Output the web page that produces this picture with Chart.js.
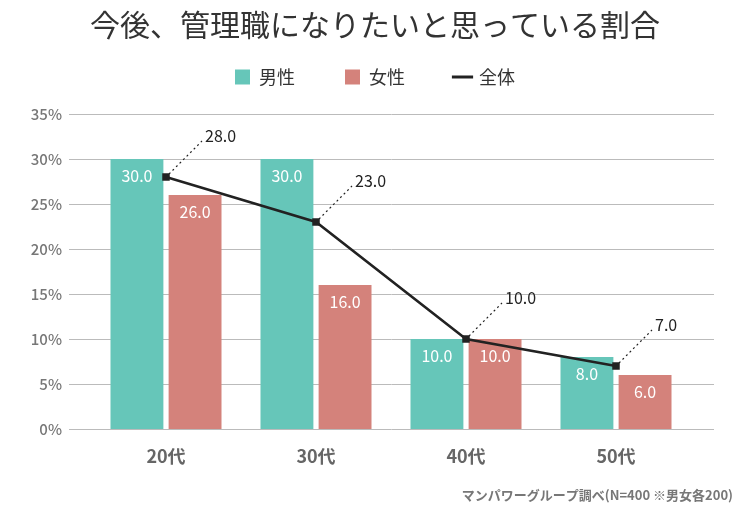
<!DOCTYPE html>
<html>
<head>
<meta charset="utf-8">
<script src="https://cdn.jsdelivr.net/npm/chart.js@4"></script>
<style>
  html, body { margin: 0; padding: 0; background: #fff; }
  #wrap { width: 750px; height: 517px; }
</style>
</head>
<body>
<div id="wrap"><canvas id="chart"></canvas></div>
<script>
/*=================================
      data
=================================*/
const categories = ["20代", "30代", "40代", "50代"];
const maleValues = [30, 30, 10, 8];
const femaleValues = [26, 16, 10, 6];
const totalValues = [28, 23, 10, 7];
const yTicks = [0, 5, 10, 15, 20, 25, 30, 35];

const FONT = "'Noto Sans CJK JP', 'Noto Sans', sans-serif";
const GREEN = "#66c6b9";
const RED = "#d4827b";
const DARK = "#222222";

/*=================================
      gridlines wider than the bars
=================================*/
const gridPlugin = {
  id: "wideGrid",
  beforeDatasetsDraw(chart) {
    const ctx = chart.ctx;
    const area = chart.chartArea;
    const y = chart.scales.y;
    ctx.save();
    ctx.strokeStyle = "#bbbbbb";
    ctx.lineWidth = 1;
    y.ticks.forEach((t) => {
      const py = Math.round(y.getPixelForValue(t.value)) + 0.5;
      ctx.beginPath();
      ctx.moveTo(area.left - 22, py);
      ctx.lineTo(area.right + 23, py);
      ctx.stroke();
    });
    ctx.restore();
  },
};

/*=================================
      value labels
=================================*/
const labelPlugin = {
  id: "valueLabels",
  afterDatasetsDraw(chart) {
    const ctx = chart.ctx;
    ctx.save();
    chart.data.datasets.forEach((ds, i) => {
      const meta = chart.getDatasetMeta(i);
      meta.data.forEach((el, j) => {
        const txt = ds.data[j].toFixed(1);
        if (ds.type === "line") {
          ctx.setLineDash([2, 3]);
          ctx.strokeStyle = DARK;
          ctx.lineWidth = 1.2;
          ctx.beginPath();
          ctx.moveTo(el.x + 3, el.y - 3);
          ctx.lineTo(el.x + 36, el.y - 36);
          ctx.stroke();
          ctx.setLineDash([]);
          ctx.fillStyle = DARK;
          ctx.font = "16px " + FONT;
          ctx.textAlign = "left";
          ctx.textBaseline = "middle";
          ctx.fillText(txt, el.x + 39, el.y - 41);
        } else {
          ctx.fillStyle = "#ffffff";
          ctx.font = "16px " + FONT;
          ctx.textAlign = "center";
          ctx.textBaseline = "middle";
          ctx.fillText(txt, el.x, el.y + 17);
        }
      });
    });
    ctx.restore();
  },
};

var data = {
  labels: categories,
  datasets: [
    {
      type: "bar",
      label: "男性",
      data: maleValues,
      backgroundColor: GREEN,
      order: 1,
      categoryPercentage: 0.775,
      barPercentage: 0.91,
    },
    {
      type: "bar",
      label: "女性",
      data: femaleValues,
      backgroundColor: RED,
      order: 1,
      categoryPercentage: 0.775,
      barPercentage: 0.91,
    },
    {
      type: "line",
      label: "全体",
      data: totalValues,
      borderColor: DARK,
      backgroundColor: DARK,
      borderWidth: 2.5,
      pointStyle: "rect",
      pointRadius: 5.3,
      pointBorderWidth: 0,
      pointBackgroundColor: DARK,
      fill: false,
      order: 0,
    },
  ],
};

var options = {
  responsive: true,
  maintainAspectRatio: false,
  animation: false,
  layout: { padding: { left: 17, right: 17, top: 0, bottom: 0 } },
  scales: {
    x: {
      grid: { display: false },
      border: { display: false },
      ticks: {
        color: "#666666",
        padding: 8,
        font: { family: FONT, size: 18, weight: "bold" },
      },
      afterFit(scale) {
        scale.height = 50;
      },
    },
    // empty band between legend and plot
    xTop: {
      type: "category",
      position: "top",
      grid: { display: false },
      border: { display: false },
      ticks: { display: false },
      afterFit(scale) {
        scale.height = 18;
      },
    },
    y: {
      min: 0,
      max: 35,
      grid: { display: false, drawTicks: false },
      border: { display: false },
      afterBuildTicks(scale) {
        scale.ticks = yTicks.map((v) => ({ value: v }));
      },
      ticks: {
        color: "#777777",
        padding: 29,
        font: { family: FONT, size: 15, weight: 500 },
        callback: (v) => v + "%",
      },
      afterFit(scale) {
        scale.width = 74;
      },
    },
    // empty band on the right
    yRight: {
      type: "linear",
      position: "right",
      grid: { display: false },
      border: { display: false },
      ticks: { display: false },
      afterFit(scale) {
        scale.width = 42;
      },
    },
  },
  plugins: {
    title: {
      display: true,
      text: "今後、管理職になりたいと思っている割合",
      color: "#333333",
      font: { family: FONT, size: 30, weight: "normal", lineHeight: 1.2 },
      padding: { top: 7, bottom: -25 },
    },
    subtitle: {
      display: true,
      position: "bottom",
      align: "end",
      text: "マンパワーグループ調べ(N=400 ※男女各200)",
      color: "#777777",
      font: { family: FONT, size: 13, weight: "bold" },
      padding: { top: 8.4, bottom: 14 },
    },
    legend: {
      display: true,
      labels: {
        color: "#333333",
        font: { family: FONT, size: 18 },
        padding: 50,
        usePointStyle: true,
        boxWidth: 15,
        boxHeight: 15,
        generateLabels(chart) {
          return chart.data.datasets.map((ds, i) => ({
            text: ds.label,
            fillStyle: ds.backgroundColor,
            strokeStyle: ds.type === "line" ? DARK : ds.backgroundColor,
            lineWidth: ds.type === "line" ? 3 : 0,
            pointStyle: ds.type === "line" ? "line" : "rect",
            fontColor: "#333333",
            hidden: false,
            datasetIndex: i,
          }));
        },
      },
    },
    tooltip: { enabled: false },
  },
};

new Chart("chart", {
  type: "bar",
  data: data,
  options: options,
  plugins: [gridPlugin, labelPlugin],
});
</script>
</body>
</html>
